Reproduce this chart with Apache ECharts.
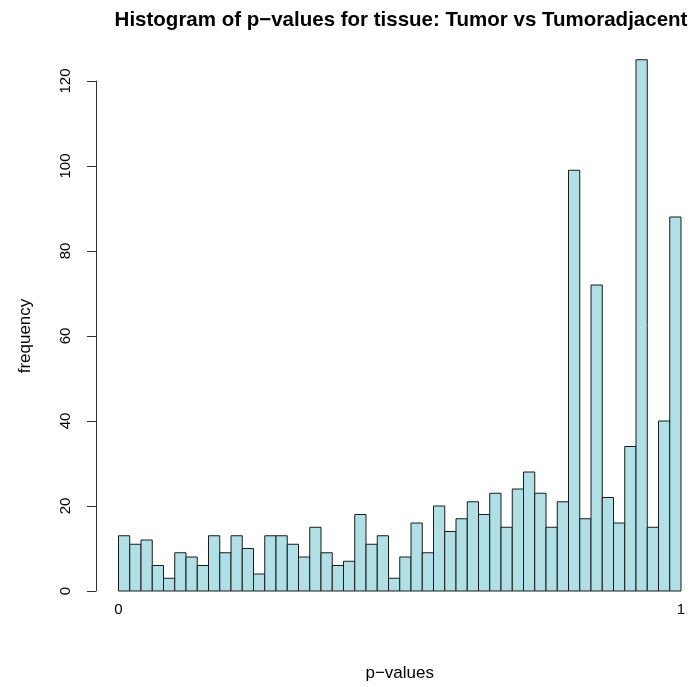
<!DOCTYPE html>
<html>
<head>
<meta charset="utf-8">
<script src="https://cdn.jsdelivr.net/npm/echarts@6/dist/echarts.min.js"></script>
<style>
  html, body { margin: 0; padding: 0; background: #ffffff; }
  #chart { width: 691px; height: 687px; }
</style>
</head>
<body>
<div id="chart"></div>
<script>
// Histogram of p-values: 50 bins of width 0.02 on [0, 1]
const binWidth = 0.02;
const counts = [
  13, 11, 12, 6, 3, 9, 8, 6, 13, 9,
  13, 10, 4, 13, 13, 11, 8, 15, 9, 6,
  7, 18, 11, 13, 3, 8, 16, 9, 20, 14,
  17, 21, 18, 23, 15, 24, 28, 23, 15, 21,
  99, 17, 72, 22, 16, 34, 125, 15, 40, 88
];
const xTicks = [0, 1];
const yTicks = [0, 20, 40, 60, 80, 100, 120];

// one row per bin: [left edge, right edge, count]
const bins = counts.map((c, i) => [i * binWidth, (i + 1) * binWidth, c]);

const chart = echarts.init(document.getElementById('chart'), null, { renderer: 'canvas' });

const font = '"Liberation Sans", Arial, Helvetica, sans-serif';

chart.setOption({
  animation: false,
  backgroundColor: '#ffffff',
  title: {
    text: 'Histogram of p\u2212values for tissue: Tumor vs Tumoradjacent',
    left: 396,
    top: 5,
    textAlign: 'center',
    textStyle: { fontFamily: font, fontWeight: 'bold', fontSize: 20.5, color: '#000' }
  },
  grid: { left: 118.5, top: 81, width: 562.5, height: 517, containLabel: false },
  xAxis: {
    type: 'value',
    min: xTicks[0],
    max: xTicks[xTicks.length - 1],
    interval: 1,
    name: 'p\u2212values',
    nameLocation: 'middle',
    nameGap: 74,
    nameTextStyle: { fontFamily: font, fontSize: 17, color: '#000' },
    axisLine: { show: false },
    axisTick: { show: false },
    splitLine: { show: false },
    axisLabel: { fontFamily: font, fontSize: 15, color: '#000', margin: 11 }
  },
  yAxis: {
    type: 'value',
    min: yTicks[0],
    max: yTicks[yTicks.length - 1],
    interval: 20,
    offset: 22.5,
    name: 'frequency',
    nameLocation: 'middle',
    nameRotate: 90,
    nameGap: 62,
    nameTextStyle: { fontFamily: font, fontSize: 17, color: '#000' },
    axisLine: { show: true, onZero: false, lineStyle: { color: '#333', width: 1 } },
    axisTick: { show: true, length: 9, lineStyle: { color: '#333', width: 1 } },
    splitLine: { show: false },
    axisLabel: { fontFamily: font, fontSize: 15, color: '#000', rotate: 90, margin: 23 }
  },
  series: [{
    type: 'custom',
    clip: false,
    data: bins,
    encode: { x: [0, 1], y: 2 },
    renderItem: function (params, api) {
      const p0 = api.coord([api.value(0), 0]);
      const p1 = api.coord([api.value(1), api.value(2)]);
      return {
        type: 'rect',
        shape: { x: p0[0], y: p1[1], width: p1[0] - p0[0], height: p0[1] - p1[1] },
        style: { fill: '#b0e0e6', stroke: '#1a1a1a', lineWidth: 1 }
      };
    }
  }]
});
</script>
</body>
</html>
